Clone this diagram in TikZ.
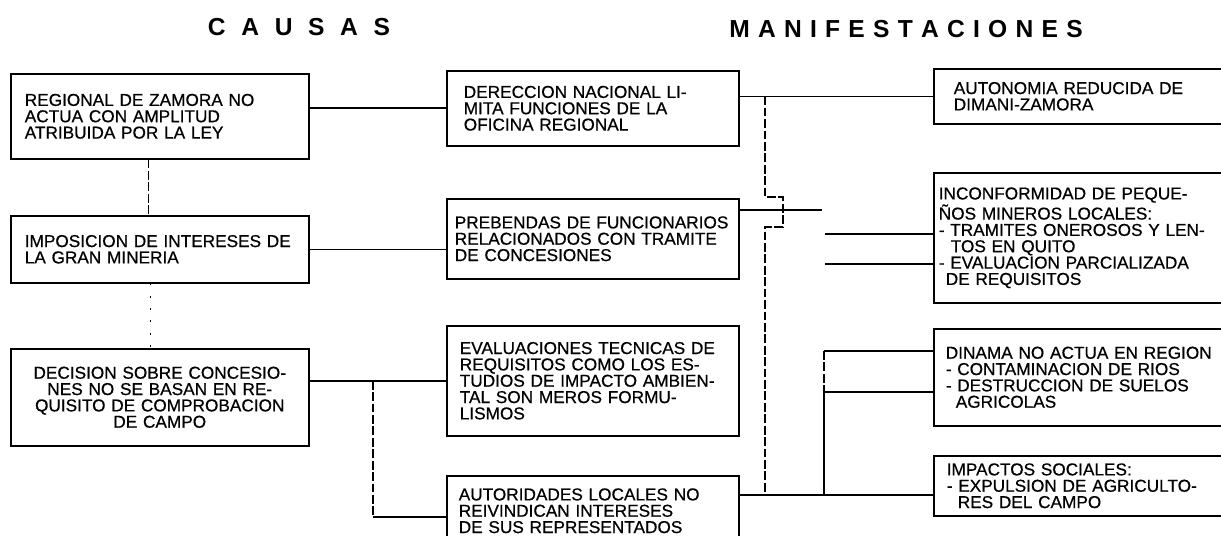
\documentclass[tikz,border=0pt]{standalone}
\usepackage{fontspec}
\setmainfont{Liberation Sans}
\newfontfamily\familiacaja[FakeBold=0.6]{Liberation Sans}
\usetikzlibrary{positioning}

\newcommand{\letracaja}{\familiacaja\fontsize{9.8}{9.3}\selectfont}
\newcommand{\letratitulo}{\fontsize{14}{16}\selectfont\bfseries}

\begin{document}
\begin{tikzpicture}[x=0.02cm, y=-0.02cm,
  caja/.style={draw, line width=0.9pt, anchor=north west, align=left, font=\letracaja},
  linea/.style={line width=0.9pt},
  bus/.style={line width=0.6pt, dash pattern=on 5pt off 1.5pt},
  puntos/.style={line width=0.6pt, dash pattern=on 1pt off 6pt}]
\useasboundingbox (0,0) rectangle (1221,535);

\node(causas) [font=\letratitulo] at (299,27) {\spaceskip=8.9pt\relax C A U S A S};
\node(manif) [font=\letratitulo] at (906,29) {\spaceskip=4.7pt\relax M A N I F E S T A C I O N E S};

% causas
\node(L1) [caja, minimum height=1.70cm, inner xsep=0.28cm, text width=5.40cm] at (10,73) {REGIONAL DE ZAMORA NO\\ACTUA CON AMPLITUD\\ATRIBUIDA POR LA LEY};
\node(L2) [caja, minimum height=1.34cm, inner xsep=0.28cm, text width=5.40cm] at (10,215) {IMPOSICION DE INTERESES DE\\LA GRAN MINERIA};
\node(L3) [caja, minimum height=1.94cm, inner xsep=0.28cm, text width=5.40cm, align=center] at (10,348) {DECISION SOBRE CONCESIO-\\NES NO SE BASAN EN RE-\\QUISITO DE COMPROBACION\\DE CAMPO};

\node(M1) [caja, minimum height=1.50cm, inner xsep=0.34cm, text width=5.16cm] at (446,70) {DERECCION NACIONAL LI-\\MITA FUNCIONES DE LA\\OFICINA REGIONAL};
\node(M2) [caja, minimum height=1.60cm, inner xsep=0.16cm, text width=5.52cm] at (446,198) {PREBENDAS DE FUNCIONARIOS\\RELACIONADOS CON TRAMITE\\DE CONCESIONES};
\node(M3) [caja, minimum height=2.20cm, inner xsep=0.26cm, text width=5.32cm] at (446,325) {EVALUACIONES TECNICAS DE\\REQUISITOS COMO LOS ES-\\TUDIOS DE IMPACTO AMBIEN-\\TAL SON MEROS FORMU-\\LISMOS};
\node(M4) [caja, minimum height=1.40cm, inner xsep=0.24cm, text width=5.36cm] at (446,475) {AUTORIDADES LOCALES NO\\REIVINDICAN INTERESES\\DE SUS REPRESENTADOS};

% manifestaciones
\node(R1) [caja, minimum height=1.10cm, inner xsep=0.40cm, text width=5.04cm] at (933,68) {AUTONOMIA REDUCIDA DE\\DIMANI-ZAMORA};
\node(R2) [caja, minimum height=2.60cm, inner xsep=0.10cm, text width=5.64cm] at (933,172) {INCONFORMIDAD DE PEQUE-\\ÑOS MINEROS LOCALES:\\- TRAMITES ONEROSOS Y LEN-\\\hspace*{0.24cm}TOS EN QUITO\\- EVALUACION PARCIALIZADA\\\hspace*{0.14cm}DE REQUISITOS};
\node(R3) [caja, minimum height=1.94cm, inner xsep=0.24cm, text width=5.36cm] at (933,328) {DINAMA NO ACTUA EN REGION\\- CONTAMINACION DE RIOS\\- DESTRUCCION DE SUELOS\\\hspace*{0.2cm}AGRICOLAS};
\node(R4) [caja, minimum height=1.20cm, inner xsep=0.26cm, text width=5.32cm] at (933,455) {IMPACTOS SOCIALES:\\- EXPULSION DE AGRICULTO-\\\hspace*{0.22cm}RES DEL CAMPO};

\coordinate(bus) at (765,0);
\coordinate(m2r) at (822,210);
\coordinate(r2a) at (825,234);
\coordinate(r2b) at (825,264);
\coordinate(r3a) at (824,351);
\coordinate(r3b) at (824,392);
\coordinate(r4l) at (824,495);
\coordinate(l3b) at (373,517);

\draw[bus] ([xshift=-0.22cm]L1.south) -- ([xshift=-0.22cm]L2.north);
\draw[puntos] ([xshift=-0.18cm]L2.south) -- ([xshift=-0.18cm]L3.north);

\draw[linea] (M1.west) -- (M1.west -| L1.east);
\draw[linea] (L2.east) -- (L2.east -| M2.west);
\draw[linea] (M3.west) -- (M3.west -| L3.east);
\draw[bus] (M3.west -| l3b) -- (l3b);
\draw[linea] (l3b) -- (l3b -| M4.west);

\draw[linea] (R1.west) -- (R1.west -| M1.east);
\draw[linea] (m2r -| M2.east) -- (m2r);
\draw[linea] (r2a) -- (r2a -| R2.west);
\draw[linea] (r2b) -- (r2b -| R2.west);
\draw[bus] (R1.west -| bus) -- (bus |- 0,197) -| (783,227) -| (bus |- r4l);
\draw[linea] (r4l -| M4.east) -- (r4l -| R4.west);
\draw[linea] (r3a -| R3.west) -- (r3a);
\draw[bus] (r3a) -- (r3b);
\draw[linea] (r3b -| R3.west) -- (r3b) -- (r4l);
\end{tikzpicture}
\end{document}
